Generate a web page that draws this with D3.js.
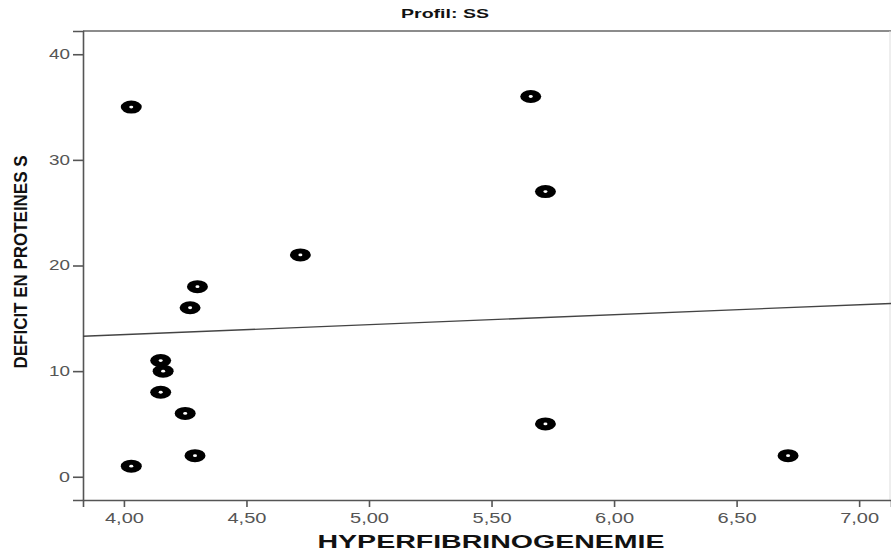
<!DOCTYPE html>
<html>
<head>
<meta charset="utf-8">
<script src="https://cdn.jsdelivr.net/npm/d3@7"></script>
<style>
  body { margin: 0; background: #fff; }
  svg { display: block; }
</style>
</head>
<body>
<div id="chart"></div>
<script>
// fibrinogen (g/L) and protein S deficit
const fibrino = [4.03, 5.66, 5.72, 4.72, 4.30, 4.27, 4.15, 4.16, 4.15, 4.25, 5.72, 4.29, 4.03, 6.71];
const deficit = [35, 36, 27, 21, 18, 16, 11, 10, 8, 6, 5, 2, 1, 2];
const xTicks = [4.0, 4.5, 5.0, 5.5, 6.0, 6.5, 7.0];
const yTicks = [0, 10, 20, 30, 40];
const xDomain = [3.833, 7.13];
const yDomain = [-2.2, 42.2];

const W = 891, H = 551;
const plotL = 83, plotT = 31, plotR = 891, plotB = 500;

const svg = d3.select("#chart").append("svg")
  .attr("width", W)
  .attr("height", H);

const x = d3.scaleLinear().domain(xDomain).range([plotL, plotR]);
const y = d3.scaleLinear().domain(yDomain).range([plotB, plotT]);

// frame
svg.append("line")
  .attr("x1", plotL).attr("x2", plotR).attr("y1", plotT).attr("y2", plotT)
  .style("stroke", "#666").style("stroke-width", 1.6);
svg.append("line")
  .attr("x1", plotR - 1).attr("x2", plotR - 1).attr("y1", plotT).attr("y2", plotB)
  .style("stroke", "#ddd").style("stroke-width", 1);

// x axis (labels are stretched wide in the source)
const fmt = d => d.toFixed(2).replace(".", ",");
const gx = svg.append("g")
  .attr("transform", `translate(0,${plotB})`)
  .call(d3.axisBottom(x).tickValues(xTicks).tickFormat(fmt).tickSizeOuter(0).tickSize(7).tickPadding(6));
gx.select(".domain").style("stroke", "#555").style("stroke-width", 1.6);
gx.selectAll(".tick line").style("stroke", "#555").style("stroke-width", 1.6);
gx.selectAll(".tick text")
  .attr("textLength", 39)
  .attr("lengthAdjust", "spacingAndGlyphs")
  .style("font-family", "Arial, 'Liberation Sans', sans-serif")
  .style("font-size", "14px")
  .style("fill", "#555");

// y axis
const gy = svg.append("g")
  .attr("transform", `translate(${plotL},0)`)
  .call(d3.axisLeft(y).tickValues(yTicks).tickSizeOuter(0).tickSize(10).tickPadding(3));
gy.select(".domain").style("stroke", "#555").style("stroke-width", 1.6);
gy.selectAll(".tick line").style("stroke", "#555").style("stroke-width", 1.6);
gy.selectAll(".tick text")
  .attr("textLength", d => d === 0 ? 11 : 21)
  .attr("lengthAdjust", "spacingAndGlyphs")
  .style("font-family", "Arial, 'Liberation Sans', sans-serif")
  .style("font-size", "14px")
  .style("fill", "#555");

// linear fit
const mx = d3.mean(fibrino), my = d3.mean(deficit);
let sxy = 0, sxx = 0;
fibrino.forEach((v, i) => {
  sxy += (v - mx) * (deficit[i] - my);
  sxx += (v - mx) * (v - mx);
});
const slope = sxy / sxx;
const icpt = my - slope * mx;
svg.append("line")
  .attr("x1", x(xDomain[0])).attr("y1", y(icpt + slope * xDomain[0]))
  .attr("x2", x(xDomain[1])).attr("y2", y(icpt + slope * xDomain[1]))
  .style("stroke", "#444")
  .style("stroke-width", 1.3);

// points
const pts = svg.append("g");
const pairs = fibrino.map((v, i) => ({fx: v, d: deficit[i]}));
pts.selectAll("ellipse.outer")
  .data(pairs)
  .enter().append("ellipse")
  .attr("class", "outer")
  .attr("cx", d => x(d.fx))
  .attr("cy", d => y(d.d))
  .attr("rx", 10.5)
  .attr("ry", 6.5)
  .attr("fill", "#000");
pts.selectAll("ellipse.inner")
  .data(pairs)
  .enter().append("ellipse")
  .attr("class", "inner")
  .attr("cx", d => x(d.fx))
  .attr("cy", d => y(d.d))
  .attr("rx", 2)
  .attr("ry", 1.4)
  .attr("fill", "#fff");

// titles
svg.append("text")
  .attr("x", 445).attr("y", 18)
  .attr("text-anchor", "middle")
  .attr("textLength", 88)
  .attr("lengthAdjust", "spacingAndGlyphs")
  .style("font-family", "Arial, 'Liberation Sans', sans-serif")
  .style("font-weight", "bold")
  .style("font-size", "13px")
  .style("fill", "#111")
  .text("Profil: SS");

svg.append("text")
  .attr("x", 491).attr("y", 548)
  .attr("text-anchor", "middle")
  .attr("textLength", 347)
  .attr("lengthAdjust", "spacingAndGlyphs")
  .style("font-family", "Arial, 'Liberation Sans', sans-serif")
  .style("font-weight", "bold")
  .style("font-size", "19px")
  .style("fill", "#111")
  .text("HYPERFIBRINOGENEMIE");

svg.append("text")
  .attr("transform", "translate(27,262) rotate(-90)")
  .attr("text-anchor", "middle")
  .attr("textLength", 213)
  .attr("lengthAdjust", "spacingAndGlyphs")
  .style("font-family", "Arial, 'Liberation Sans', sans-serif")
  .style("font-weight", "bold")
  .style("font-size", "18px")
  .style("fill", "#111")
  .text("DEFICIT EN PROTEINES S");
</script>
</body>
</html>
